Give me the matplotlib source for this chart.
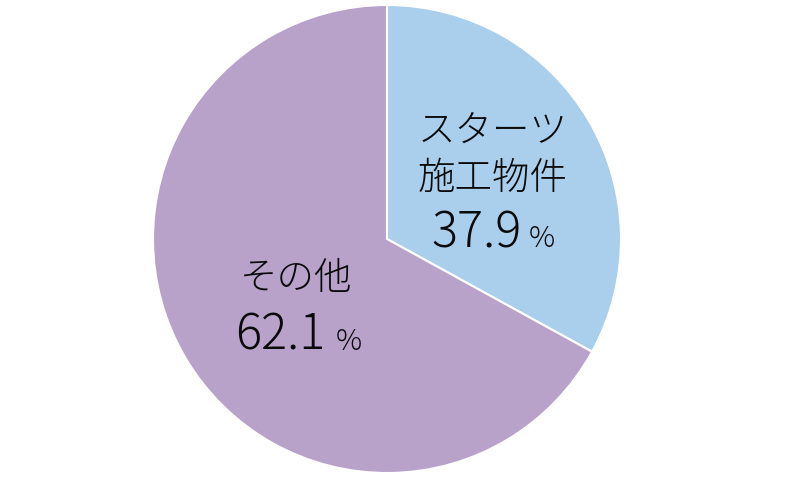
import matplotlib
matplotlib.use("Agg")
import matplotlib.pyplot as plt

# data
categories = ["スターツ\n施工物件", "その他"]
percent_labels = ["37.9", "62.1"]
wedge_sizes = [33.0, 67.0]   # slice extents as drawn in the reference
colors = ["#A9CFEC", "#B8A2CA"]

W, H = 796, 484
fig = plt.figure(figsize=(W / 100, H / 100), dpi=100)
cx, cy, r = 387, 239, 234
ax = fig.add_axes([(cx - r) / W, (H - cy - r) / H, 2 * r / W, 2 * r / H])
ax.pie(wedge_sizes, colors=colors, startangle=90, counterclock=False,
       wedgeprops=dict(edgecolor="white", linewidth=1.5), radius=1.0)
ax.set_xlim(-1, 1)
ax.set_ylim(-1, 1)
ax.set_aspect("equal")
ax.axis("off")

fam = ["Noto Sans CJK JP", "DejaVu Sans"]

def px(x, y):
    return x / W, 1 - y / H

def label(lines, num, x_center, y_lines, y_num, num_x, pct_x):
    for t, yy in zip(lines, y_lines):
        fig.text(*px(x_center, yy), t, ha="center", va="center",
                 fontsize=27, family=fam, weight="light", color="#0a0a0a")
    fig.text(*px(num_x, y_num), num, ha="right", va="baseline",
             fontsize=35, family=fam, weight="light", color="#0a0a0a")
    fig.text(*px(pct_x, y_num), "%", ha="left", va="baseline",
             fontsize=21, family=fam, weight="light", color="#0a0a0a")

l0 = categories[0].split("\n")
label(l0, percent_labels[0], 493, [131, 178], 247, 522, 529)
l1 = categories[1].split("\n")
label(l1, percent_labels[1], 296, [278], 350, 325, 336)

fig.savefig("out.png", dpi=100)
